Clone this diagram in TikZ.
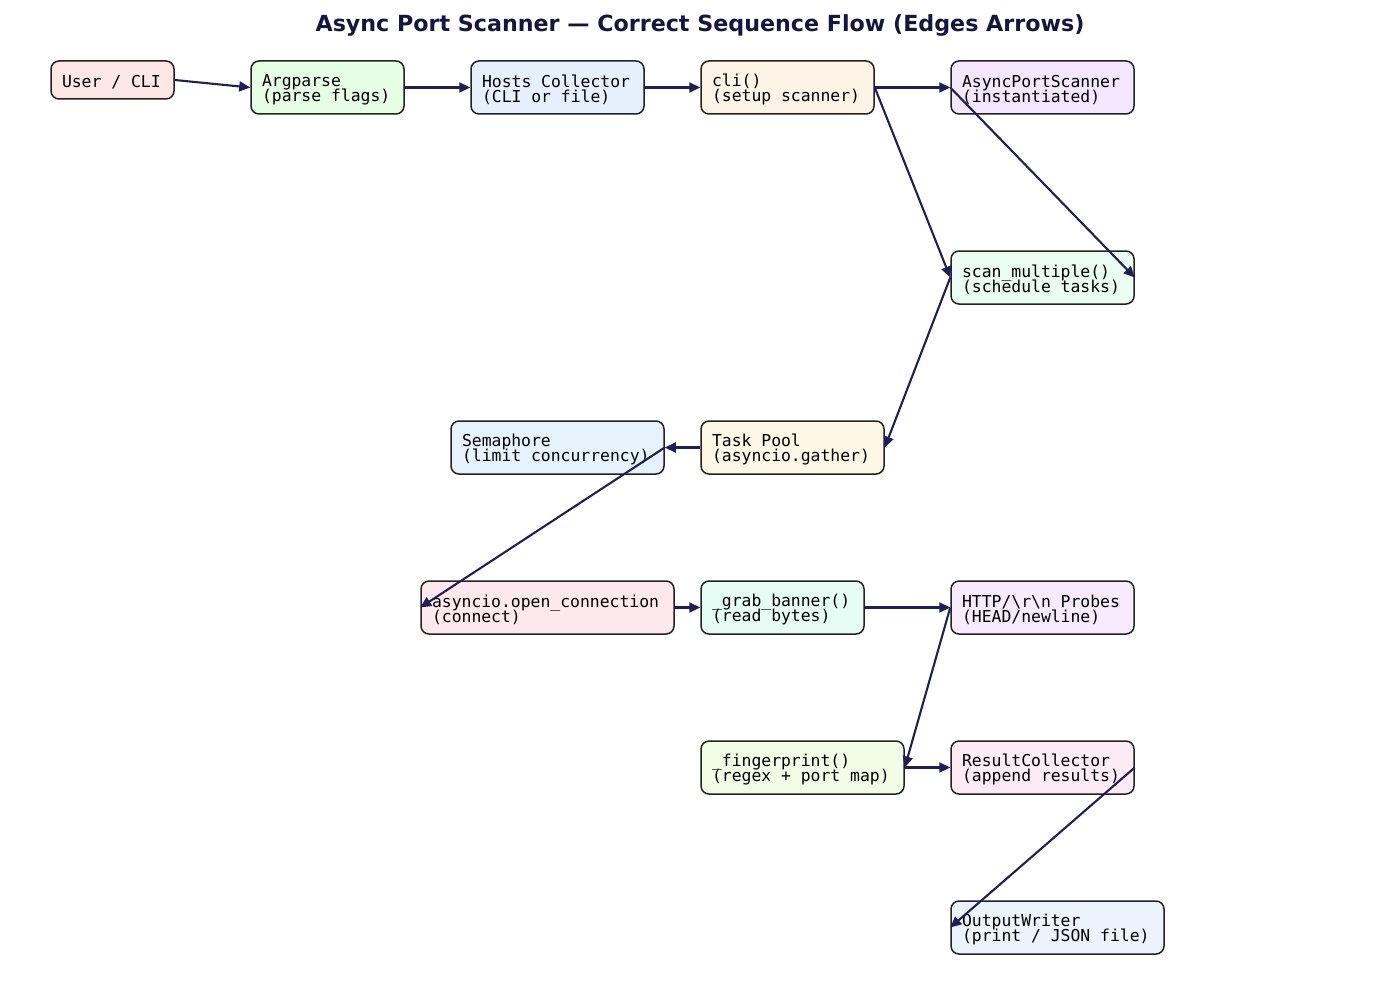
\documentclass[tikz,border=0pt]{standalone}
\usepackage{fontspec}
\setmonofont{DejaVu Sans Mono}
\setsansfont{DejaVu Sans}
\usetikzlibrary{arrows.meta}

\definecolor{edgeblue}{HTML}{1F1F55}
\definecolor{titleblue}{HTML}{15153F}
\definecolor{boxline}{HTML}{222222}
\definecolor{fUser}{HTML}{FDE6E6}
\definecolor{fArgs}{HTML}{E6FDE6}
\definecolor{fHosts}{HTML}{E6F0FD}
\definecolor{fCli}{HTML}{FDF3E6}
\definecolor{fScanner}{HTML}{F3E6FD}
\definecolor{fMulti}{HTML}{EBFDF3}
\definecolor{fPool}{HTML}{FDF8E6}
\definecolor{fSem}{HTML}{E6F3FD}
\definecolor{fConn}{HTML}{FDE8EE}
\definecolor{fGrab}{HTML}{E6FDF6}
\definecolor{fProbe}{HTML}{F8EBFD}
\definecolor{fFinger}{HTML}{F3FDE6}
\definecolor{fResult}{HTML}{FDEBF3}
\definecolor{fOut}{HTML}{ECF3FD}

\DeclareRobustCommand\boxfont{%
  \ttfamily\fontsize{8.2}{7.5}\selectfont
  \lineskiplimit=-5pt\relax
  \lineskip=0pt\relax}

\begin{document}
\begin{tikzpicture}
[
x=0.5pt, y=-0.5pt,
block/.style 2 args={draw=boxline, line width=0.75pt, rounded corners=4pt,
            fill=#1, text width=#2, align=left, inner xsep=5.5pt, inner ysep=0pt,
            minimum height=26.5pt, font=\boxfont,
            execute at begin node={\spaceskip=0.602em\relax\xspaceskip=0.602em\relax\rule{0pt}{8.2pt}}},
flow/.style={draw=edgeblue, line width=1.05pt, -{Triangle[length=5.5pt,width=5pt]}},
]
\useasboundingbox (0,0) rectangle (1400,1000);

\node[font=\sffamily\bfseries\fontsize{11.1}{13}\selectfont, text=titleblue] (title) at (700,25)
            {Async Port Scanner — Correct Sequence Flow (Edges Arrows)};

%Place the nodes
\node[block={fUser}{50.5pt}, minimum height=19pt] (user) at (112.5,80) {User / CLI};
\node[block={fArgs}{65.5pt}] (argp) at (327.5,87.5) {Argparse\\(parse flags)};
\node[block={fHosts}{75.5pt}] (hosts) at (557.5,87.5) {Hosts Collector\\(CLI or file)};
\node[block={fCli}{75.5pt}] (cli) at (787.5,87.5) {cli()\\(setup scanner)};
\node[block={fScanner}{80.5pt}] (scanner) at (1042.5,87.5) {AsyncPortScanner\\(instantiated)};
\node[block={fMulti}{80.5pt}] (multi) at (1042.5,277.5) {scan\_multiple()\\(schedule tasks)};
\node[block={fPool}{80.5pt}] (pool) at (792.5,447.5) {Task Pool\\(asyncio.gather)};
\node[block={fSem}{95.5pt}] (sem) at (557.5,447.5) {Semaphore\\(limit concurrency)};
\node[block={fConn}{115.5pt}] (conn) at (547.5,607.5) {asyncio.open\_connection\\(connect)};
\node[block={fGrab}{70.5pt}] (grab) at (782.5,607.5) {\_grab\_banner()\\(read bytes)};
\node[block={fProbe}{80.5pt}] (probe) at (1042.5,607.5) {HTTP/\textbackslash r\textbackslash n Probes\\(HEAD/newline)};
\node[block={fFinger}{90.5pt}] (finger) at (802.5,767.5) {\_fingerprint()\\(regex + port map)};
\node[block={fResult}{80.5pt}] (result) at (1042.5,767.5) {ResultCollector\\(append results)};
\node[block={fOut}{95.5pt}] (out) at (1057.5,927.5) {OutputWriter\\(print / JSON file)};

%Draw the connections
\draw[flow] (user.east) -- (argp.west);
\draw[flow] (argp.east) -- (hosts.west);
\draw[flow] (hosts.east) -- (cli.west);
\draw[flow] (cli.east) -- (scanner.west);
\draw[flow] (cli.east) -- (multi.west);
\draw[flow] (scanner.west) -- (multi.east);
\draw[flow] (multi.west) -- (pool.east);
\draw[flow] (pool.west) -- (sem.east);
\draw[flow] (sem.east) -- (conn.west);
\draw[flow] (conn.east) -- (grab.west);
\draw[flow] (grab.east) -- (probe.west);
\draw[flow] (probe.west) -- (finger.east);
\draw[flow] (finger.east) -- (result.west);
\draw[flow] (result.east) -- (out.west);
\end{tikzpicture}
\end{document}
